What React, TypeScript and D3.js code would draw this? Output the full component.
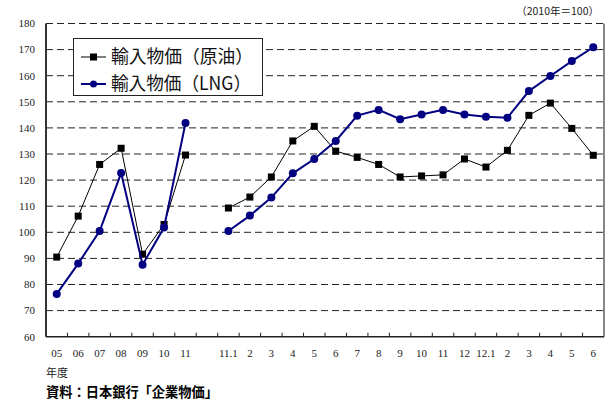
import React from "react";
import * as d3 from "d3";

const categories: string[] = [
  "05", "06", "07", "08", "09", "10", "11", "",
  "11.1", "2", "3", "4", "5", "6", "7", "8", "9", "10", "11", "12",
  "12.1", "2", "3", "4", "5", "6",
];

const crudeValues: (number | null)[] = [
  90.5, 106.2, 126, 132.2, 91.6, 103, 129.6, null,
  109.3, 113.5, 121.2, 135, 140.6, 131.1, 128.7, 126, 121.2, 121.6, 122, 128.1,
  125, 131.4, 144.8, 149.5, 139.8, 129.5,
];

const lngValues: (number | null)[] = [
  76.4, 88, 100.5, 122.7, 87.6, 101.8, 141.9, null,
  100.5, 106.4, 113.3, 122.6, 128.1, 135, 144.7, 146.9, 143.3, 145.1, 146.9, 145.1,
  144.3, 143.9, 154.1, 159.9, 165.6, 170.9,
];

const yTicks: number[] = [60, 70, 80, 90, 100, 110, 120, 130, 140, 150, 160, 170, 180];

const seriesNames = ["輸入物価（原油）", "輸入物価（LNG）"];

export default function App() {
  const W = 607, H = 403;
  const left = 46, right = 604, top = 23.5, bottom = 336.7;
  const idx = categories.map((_, i) => i);
  const x = d3.scaleBand<number>().domain(idx).range([left, right]).padding(0);
  const y = d3.scaleLinear().domain([60, 180]).range([bottom, top]);
  const cx = (i: number) => (x(i) as number) + x.bandwidth() / 2;

  const line = d3
    .line<number | null>()
    .defined((d) => d !== null)
    .x((_, i) => cx(i))
    .y((d) => y(d as number));

  const serif = "'Liberation Serif', 'DejaVu Serif', serif";
  const jp = "'Noto Sans CJK JP', 'Noto Sans', sans-serif";

  return (
    <svg width={W} height={H} style={{ position: "absolute", left: 0, top: 0, background: "#fff" }}>
      <rect x={0} y={0} width={W} height={H} fill="#fff" />
      {/* gridlines */}
      {yTicks.filter((t) => t > 60).map((t) => (
        <line key={t} x1={left} x2={right} y1={y(t)} y2={y(t)} stroke="#222" strokeWidth={1} strokeDasharray="7,4" />
      ))}
      {/* axes */}
      <line x1={left} x2={left} y1={top} y2={bottom} stroke="#333" strokeWidth={2} />
      <line x1={right} x2={right} y1={top} y2={bottom} stroke="#888" strokeWidth={2} />
      <line x1={left} x2={right} y1={bottom} y2={bottom} stroke="#222" strokeWidth={1.5} />
      {/* x ticks */}
      {idx.slice(1).map((i) => (
        <line key={i} x1={x(i) as number} x2={x(i) as number} y1={bottom} y2={bottom - 4} stroke="#222" strokeWidth={1} />
      ))}
      {/* y labels */}
      {yTicks.map((t) => (
        <text key={t} x={35} y={y(t)} dy="0.35em" textAnchor="end" fontFamily={serif} fontSize={11} fill="#222">
          {t}
        </text>
      ))}
      {/* x labels */}
      {categories.map((c, i) => (
        <text key={i} x={cx(i)} y={357} textAnchor="middle" fontFamily={serif} fontSize={11} fill="#222">
          {c}
        </text>
      ))}
      {/* series */}
      <path d={line(crudeValues) || ""} fill="none" stroke="#000" strokeWidth={1} />
      {crudeValues.map((v, i) =>
        v === null ? null : (
          <rect key={i} x={cx(i) - 3.5} y={y(v) - 3.5} width={7} height={7} fill="#000" />
        )
      )}
      <path d={line(lngValues) || ""} fill="none" stroke="#000080" strokeWidth={2} />
      {lngValues.map((v, i) =>
        v === null ? null : <circle key={i} cx={cx(i)} cy={y(v)} r={4} fill="#000080" />
      )}
      {/* legend */}
      <rect x={73.5} y={38.5} width={189} height={57} fill="#fff" stroke="#222" strokeWidth={1} />
      <line x1={81} x2={106} y1={57} y2={57} stroke="#000" strokeWidth={1} />
      <rect x={90} y={53.5} width={7} height={7} fill="#000" />
      <text x={111} y={57} dy="0.36em" fontFamily={jp} fontSize={18} fill="#111" textLength={142} lengthAdjust="spacingAndGlyphs">{seriesNames[0]}</text>
      <line x1={81} x2={106} y1={84} y2={84} stroke="#000080" strokeWidth={2} />
      <circle cx={93.5} cy={84} r={3.5} fill="#000080" />
      <text x={111} y={84} dy="0.36em" fontFamily={jp} fontSize={18} fill="#111" textLength={140} lengthAdjust="spacingAndGlyphs">{seriesNames[1]}</text>
      {/* annotations */}
      <text x={599} y={15} textAnchor="end" fontFamily={jp} fontSize={10.5} fill="#222">（2010年＝100）</text>
      <text x={46} y={377} fontFamily={jp} fontSize={11} fill="#222">年度</text>
      <text x={46} y={397} fontFamily={jp} fontSize={14} fontWeight="bold" fill="#000" textLength={172} lengthAdjust="spacingAndGlyphs">資料：日本銀行「企業物価」</text>
    </svg>
  );
}
